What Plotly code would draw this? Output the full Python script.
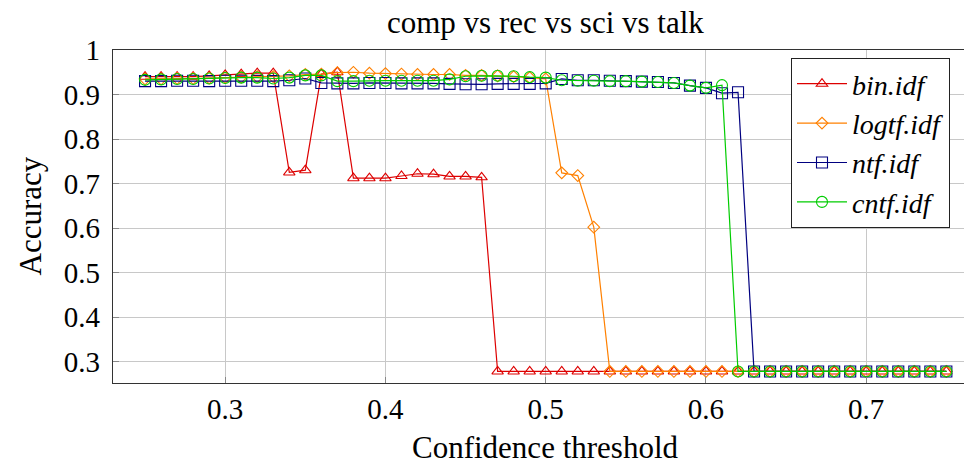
import plotly.graph_objects as go

thresholds = [0.25, 0.26, 0.27, 0.28, 0.29, 0.30, 0.31, 0.32, 0.33, 0.34,
              0.35, 0.36, 0.37, 0.38, 0.39, 0.40, 0.41, 0.42, 0.43, 0.44,
              0.45, 0.46, 0.47, 0.48, 0.49, 0.50, 0.51, 0.52, 0.53, 0.54,
              0.55, 0.56, 0.57, 0.58, 0.59, 0.60, 0.61, 0.62, 0.63, 0.64,
              0.65, 0.66, 0.67, 0.68, 0.69, 0.70, 0.71, 0.72, 0.73, 0.74, 0.75]

bin_idf = [0.940, 0.940, 0.940, 0.940, 0.942, 0.944, 0.946, 0.948, 0.948, 0.725,
           0.730, 0.946, 0.950, 0.712, 0.712, 0.712, 0.717, 0.722, 0.721, 0.716,
           0.716, 0.714, 0.278, 0.278, 0.278, 0.278, 0.278, 0.278, 0.278, 0.278,
           0.278, 0.278, 0.278, 0.278, 0.278, 0.278, 0.278, 0.278, 0.278, 0.278,
           0.278, 0.278, 0.278, 0.278, 0.278, 0.278, 0.278, 0.278, 0.278, 0.278, 0.278]

logtf_idf = [0.935, 0.935, 0.936, 0.936, 0.937, 0.938, 0.939, 0.940, 0.940, 0.942,
             0.945, 0.946, 0.949, 0.950, 0.948, 0.947, 0.946, 0.945, 0.945, 0.945,
             0.943, 0.943, 0.942, 0.940, 0.938, 0.935, 0.724, 0.718, 0.602, 0.278,
             0.278, 0.278, 0.278, 0.278, 0.278, 0.278, 0.278, 0.278, 0.278, 0.278,
             0.278, 0.278, 0.278, 0.278, 0.278, 0.278, 0.278, 0.278, 0.278, 0.278, 0.278]

ntf_idf = [0.930, 0.930, 0.931, 0.931, 0.930, 0.931, 0.931, 0.931, 0.930, 0.932,
           0.936, 0.926, 0.925, 0.925, 0.926, 0.926, 0.925, 0.925, 0.925, 0.924,
           0.923, 0.923, 0.924, 0.924, 0.924, 0.925, 0.935, 0.932, 0.932, 0.931,
           0.930, 0.929, 0.928, 0.926, 0.920, 0.915, 0.903, 0.905, 0.278, 0.278,
           0.278, 0.278, 0.278, 0.278, 0.278, 0.278, 0.278, 0.278, 0.278, 0.278, 0.278]

cntf_idf = [0.933, 0.934, 0.935, 0.935, 0.936, 0.937, 0.938, 0.938, 0.936, 0.938,
            0.943, 0.943, 0.930, 0.930, 0.931, 0.931, 0.931, 0.931, 0.931, 0.934,
            0.941, 0.942, 0.942, 0.941, 0.939, 0.938, 0.932, 0.931, 0.931, 0.930,
            0.930, 0.929, 0.928, 0.926, 0.920, 0.915, 0.921, 0.278, 0.278, 0.278,
            0.278, 0.278, 0.278, 0.278, 0.278, 0.278, 0.278, 0.278, 0.278, 0.278, 0.278]

x_ticks = [0.3, 0.4, 0.5, 0.6, 0.7]
x_tick_labels = ["0.3", "0.4", "0.5", "0.6", "0.7"]
y_ticks = [0.3, 0.4, 0.5, 0.6, 0.7, 0.8, 0.9, 1.0]
y_tick_labels = ["0.3", "0.4", "0.5", "0.6", "0.7", "0.8", "0.9", "1"]

series = [
    ("bin.idf", bin_idf, "#dd0000", "triangle-up-open", 10),
    ("logtf.idf", logtf_idf, "#ff8000", "diamond-open", 9),
    ("ntf.idf", ntf_idf, "#000080", "square-open", 11),
    ("cntf.idf", cntf_idf, "#00cc00", "circle-open", 11),
]

FONT = "'Liberation Serif', 'DejaVu Serif', serif"

fig = go.Figure()
for name, vals, color, sym, size in series:
    fig.add_trace(go.Scatter(
        x=thresholds, y=vals, name=name, mode="lines+markers",
        line=dict(color=color, width=1.2),
        marker=dict(symbol=sym, size=size, color=color, line=dict(color=color, width=1.1)),
    ))

W, H = 964, 464
L, R, T, B = 113, 0, 50, 81
plot_w = W - L - R
plot_h = H - T - B

fig.update_layout(
    width=W, height=H,
    margin=dict(l=L, r=R, t=T, b=B),
    paper_bgcolor="white", plot_bgcolor="white",
    font=dict(family=FONT, size=29, color="black"),
    showlegend=True,
    legend=dict(
        x=(950 - L) / plot_w, xanchor="right",
        y=1 - 8 / plot_h, yanchor="top",
        bgcolor="white", bordercolor="#222222", borderwidth=1,
        font=dict(family=FONT, size=28, style="italic"),
        tracegroupgap=0, itemwidth=50,
    ),
    xaxis=dict(
        range=[0.23, 0.761], tickvals=x_ticks, ticktext=x_tick_labels,
        showgrid=True, gridcolor="#c8c8c8", gridwidth=1,
        showline=True, linecolor="#333333", linewidth=1.2, mirror=True,
        ticks="inside", ticklen=6, tickcolor="#888888", tickwidth=1,
        zeroline=False, tickfont=dict(family=FONT, size=29),
    ),
    yaxis=dict(
        range=[0.252, 1.0], tickvals=y_ticks, ticktext=y_tick_labels,
        showgrid=True, gridcolor="#c8c8c8", gridwidth=1,
        showline=True, linecolor="#333333", linewidth=1.2,
        ticks="inside", ticklen=6, tickcolor="#888888", tickwidth=1,
        zeroline=False, tickfont=dict(family=FONT, size=29),
        ticklabelstandoff=6,
    ),
    annotations=[
        dict(text="comp vs rec vs sci vs talk", xref="paper", yref="paper",
             x=(545 - L) / plot_w, y=(H - B - 23) / plot_h, xanchor="center", yanchor="middle",
             showarrow=False, font=dict(family=FONT, size=31)),
        dict(text="Confidence threshold", xref="paper", yref="paper",
             x=(545 - L) / plot_w, y=(H - B - 447) / plot_h, xanchor="center", yanchor="middle",
             showarrow=False, font=dict(family=FONT, size=31)),
        dict(text="Accuracy", xref="paper", yref="paper", textangle=-90,
             x=(30 - L) / plot_w, y=0.5, xanchor="center", yanchor="middle",
             showarrow=False, font=dict(family=FONT, size=31)),
    ],
)

fig.write_html("out.html")
